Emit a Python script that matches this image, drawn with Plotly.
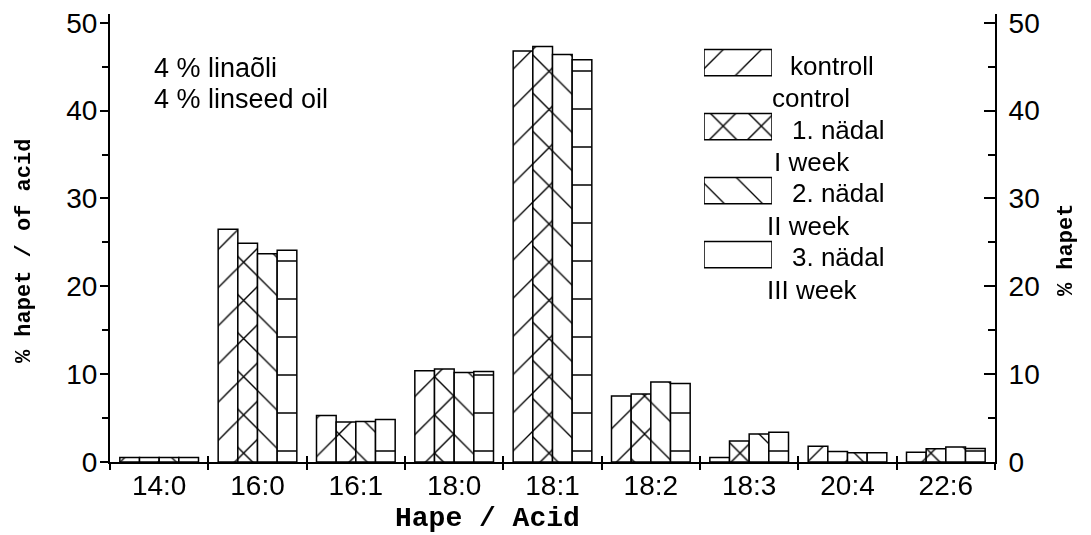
import plotly.graph_objects as go

categories = ["14:0", "16:0", "16:1", "18:0", "18:1", "18:2", "18:3", "20:4", "22:6"]
kontroll = [0.5, 26.5, 5.3, 10.4, 46.8, 7.5, 0.5, 1.8, 1.1]
week1 = [0.5, 24.9, 4.55, 10.6, 47.3, 7.75, 2.4, 1.2, 1.5]
week2 = [0.5, 23.7, 4.6, 10.2, 46.4, 9.1, 3.2, 1.05, 1.7]
week3 = [0.5, 24.1, 4.85, 10.3, 45.8, 8.95, 3.4, 1.05, 1.55]

series = [kontroll, week1, week2, week3]
names_et = ["kontroll", "1. nädal", "2. nädal", "3. nädal"]
names_en = ["control", "I week", "II week", "III week"]
shapes = ["/", "x", "\\", "-"]
psizes = [27, 27, 27, 38]
psolid = [0.05, 0.1, 0.05, 0.035]

SANS = "Liberation Sans, Arial, sans-serif"
MONO = "Liberation Mono, Courier New, monospace"

xpos = list(range(len(categories)))
fig = go.Figure()
for vals, nm, shp, sz, so in zip(series, names_et, shapes, psizes, psolid):
    fig.add_trace(go.Bar(
        x=xpos, y=vals, name=nm, showlegend=False,
        marker=dict(color="white", line=dict(color="black", width=1.5),
                    pattern=dict(shape=shp, size=sz, solidity=so,
                                 fgcolor="black", bgcolor="white", fillmode="replace")),
        xaxis="x", yaxis="y"))

# invisible helper trace so that the overlay axes (inner x ticks, right y axis) are drawn
fig.add_trace(go.Scatter(x=xpos, y=kontroll, mode="markers", opacity=0,
                         marker=dict(size=1), hoverinfo="skip", showlegend=False,
                         xaxis="x2", yaxis="y2"))

# legend swatches on an inset axis
for i, (nm, shp, sz, so) in enumerate(zip(names_et, shapes, psizes, psolid)):
    fig.add_trace(go.Bar(
        x=[1], y=[i], orientation="h", width=0.41, offset=-0.205, base=0,
        showlegend=False, hoverinfo="skip",
        marker=dict(color="white", line=dict(color="black", width=1.5),
                    pattern=dict(shape=shp, size=sz, solidity=so,
                                 fgcolor="black", bgcolor="white", fillmode="replace")),
        xaxis="x4", yaxis="y4"))

boundaries = [i - 0.5 for i in range(len(categories) + 1)]

# page body has an 8px margin: figure is sized/offset to compensate
fig.update_layout(
    width=1083, height=527,
    margin=dict(l=102, r=96, t=6, b=73, autoexpand=False),
    paper_bgcolor="white", plot_bgcolor="white",
    barmode="group", bargap=0.2, bargroupgap=0,
    showlegend=False,
    font=dict(family=SANS, size=28, color="black"),
    xaxis=dict(range=[-0.5, 8.5], tickvals=xpos, ticktext=categories,
               ticks="", showgrid=False, zeroline=False, automargin=False,
               showline=True, linecolor="black", linewidth=2,
               tickfont=dict(family=SANS, size=28),
               ticklabelstandoff=-3,
               minor=dict(tickvals=boundaries, ticks="outside", ticklen=6,
                          tickwidth=2, tickcolor="black")),
    xaxis2=dict(range=[-0.5, 8.5], overlaying="x", anchor="y2", side="bottom",
                tickvals=boundaries, ticks="inside", ticklen=6, tickwidth=2,
                tickcolor="black", showticklabels=False, showgrid=False,
                zeroline=False, showline=False, automargin=False),
    yaxis=dict(range=[0, 51], tickvals=[0, 10, 20, 30, 40, 50],
               ticks="outside", ticklen=8, tickwidth=2, tickcolor="black",
               showgrid=False, zeroline=False, showline=True, automargin=False,
               linecolor="black", linewidth=2,
               tickfont=dict(family=SANS, size=28),
               ticklabelstandoff=-3, ticklabeloverflow="allow",
               minor=dict(tickvals=[5, 15, 25, 35, 45], ticks="outside",
                          ticklen=6, tickwidth=2, tickcolor="black")),
    yaxis2=dict(range=[0, 51], overlaying="y", side="right", anchor="x2",
                tickvals=[0, 10, 20, 30, 40, 50],
                ticks="inside", ticklen=11, tickwidth=2, tickcolor="black",
                showgrid=False, zeroline=False, showline=True, automargin=False,
                linecolor="black", linewidth=2,
                tickfont=dict(family=SANS, size=28),
                ticklabelstandoff=6, ticklabeloverflow="allow",
                minor=dict(tickvals=[5, 15, 25, 35, 45], ticks="inside",
                           ticklen=7, tickwidth=2, tickcolor="black")),
    xaxis4=dict(domain=[0.6712, 0.748], range=[0, 1], anchor="y4",
                visible=False, fixedrange=True, automargin=False),
    yaxis4=dict(domain=[0.3917, 0.963], range=[3.5, -0.5], anchor="x4",
                visible=False, fixedrange=True, automargin=False),
)

ann = []
ann.append(dict(text="% hapet / of acid", x=-0.096, y=0.471, textangle=-90,
                font=dict(family=MONO, size=22, weight="bold")))
ann.append(dict(text="% hapet", x=1.0802, y=0.473, textangle=-90,
                font=dict(family=MONO, size=22, weight="bold")))
ann.append(dict(text="Hape / Acid", x=0.426, y=-0.125,
                font=dict(family=MONO, size=28, weight="bold")))
ann.append(dict(text="4 % linaõli", x=0.0475, y=0.879, xanchor="left",
                font=dict(family=SANS, size=27)))
ann.append(dict(text="4 % linseed oil", x=0.0475, y=0.810, xanchor="left",
                font=dict(family=SANS, size=27)))

et_pos = [(0.766, 0.884), (0.768, 0.741), (0.768, 0.600), (0.768, 0.4576)]
en_pos = [(0.7458, 0.8125), (0.748, 0.670), (0.740, 0.527), (0.740, 0.384)]
for t, (x, y) in zip(names_et, et_pos):
    ann.append(dict(text=t, x=x, y=y, xanchor="left", font=dict(family=SANS, size=26)))
for t, (x, y) in zip(names_en, en_pos):
    ann.append(dict(text=t, x=x, y=y, xanchor="left", font=dict(family=SANS, size=26)))

for a in ann:
    a.update(xref="paper", yref="paper", showarrow=False)
    a.setdefault("xanchor", "center")
    a.setdefault("yanchor", "middle")
fig.update_layout(annotations=ann)

fig.write_html("out.html")
